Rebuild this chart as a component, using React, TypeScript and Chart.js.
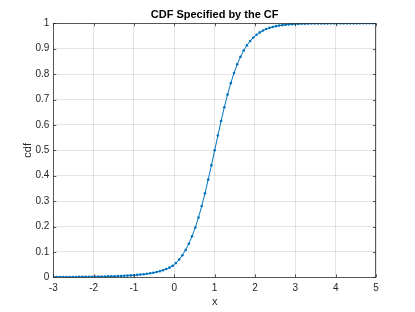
import React, { useEffect, useRef } from "react";
import { Chart, registerables } from "chart.js";

Chart.register(...registerables);

const xValues: number[] = Array.from({ length: 101 }, (_, i) => Math.round((-3 + 0.08 * i) * 100) / 100);

const cdfValues: number[] = [
  0.0010, 0.0010, 0.0010, 0.0011, 0.0011, 0.0012, 0.0013, 0.0014, 0.0015, 0.0017,
  0.0018, 0.0020, 0.0022, 0.0024, 0.0026, 0.0029, 0.0032, 0.0035, 0.0039, 0.0043,
  0.0048, 0.0053, 0.0059, 0.0066, 0.0074, 0.0083, 0.0094, 0.0106, 0.0120, 0.0137,
  0.0157, 0.0180, 0.0207, 0.0240, 0.0280, 0.0325, 0.0380, 0.0450, 0.0560, 0.0699,
  0.0868, 0.1074, 0.1321, 0.1615, 0.1959, 0.2357, 0.2807, 0.3305, 0.3845, 0.4415,
  0.5000, 0.5585, 0.6155, 0.6695, 0.7193, 0.7643, 0.8041, 0.8385, 0.8679, 0.8926,
  0.9132, 0.9301, 0.9440, 0.9552, 0.9642, 0.9715, 0.9774, 0.9820, 0.9857, 0.9887,
  0.9910, 0.9929, 0.9944, 0.9956, 0.9965, 0.9972, 0.9978, 0.9983, 0.9986, 0.9989,
  0.9991, 0.9993, 0.9995, 0.9996, 0.9997, 0.9997, 0.9998, 0.9998, 0.9998, 0.9999,
  0.9999, 0.9999, 0.9999, 0.9999, 0.9999, 1.0000, 1.0000, 1.0000, 1.0000, 1.0000,
  1.0000,
];

const xTicks: number[] = [-3, -2, -1, 0, 1, 2, 3, 4, 5];
const yTicks: number[] = [0, 0.1, 0.2, 0.3, 0.4, 0.5, 0.6, 0.7, 0.8, 0.9, 1];

const titleText = "CDF Specified by the CF";
const xLabel = "x";
const yLabel = "cdf";

const FONT = "'Liberation Sans', Arial, Helvetica, sans-serif";
const AXIS_COLOR = "#262626";

const framePlugin = {
  id: "matlabFrame",
  afterDraw(chart: any) {
    const { ctx, chartArea } = chart;
    const { left, right, top, bottom } = chartArea;
    const xs = chart.scales.x;
    const ys = chart.scales.y;
    ctx.save();
    ctx.strokeStyle = AXIS_COLOR;
    ctx.lineWidth = 1;
    // frame
    ctx.globalAlpha = 0.75;
    ctx.strokeRect(Math.round(left) + 0.5, Math.round(top) + 0.5, Math.round(right - left) - 1, Math.round(bottom - top));
    // ticks
    const tl = 3;
    ctx.beginPath();
    xTicks.forEach((t) => {
      const px = Math.round(xs.getPixelForValue(t)) + 0.5;
      ctx.moveTo(px, bottom);
      ctx.lineTo(px, bottom - tl);
      ctx.moveTo(px, top);
      ctx.lineTo(px, top + tl);
    });
    yTicks.forEach((t) => {
      const py = Math.round(ys.getPixelForValue(t)) + 0.5;
      ctx.moveTo(left, py);
      ctx.lineTo(left + tl, py);
      ctx.moveTo(right, py);
      ctx.lineTo(right - tl, py);
    });
    ctx.stroke();
    ctx.globalAlpha = 1;
    // texts
    ctx.fillStyle = "#000000";
    ctx.font = `bold 11px ${FONT}`;
    ctx.textAlign = "center";
    ctx.textBaseline = "middle";
    ctx.fillText(titleText, (left + right) / 2, 14.5);
    ctx.fillStyle = AXIS_COLOR;
    ctx.font = `11px ${FONT}`;
    ctx.fillText(xLabel, (left + right) / 2, 302);
    ctx.translate(28, (top + bottom) / 2);
    ctx.rotate(-Math.PI / 2);
    ctx.fillText(yLabel, 0, 0);
    ctx.restore();
  },
};

export default function App() {
  const canvasRef = useRef<HTMLCanvasElement | null>(null);

  useEffect(() => {
    document.body.style.margin = "0";
    const canvas = canvasRef.current;
    if (!canvas) return;
    const chart = new Chart(canvas, {
      type: "line",
      data: {
        labels: xValues,
        datasets: [
          {
            data: xValues.map((x, i) => ({ x, y: cdfValues[i] })),
            borderColor: "#0072BD",
            backgroundColor: "#0072BD",
            borderWidth: 1,
            pointRadius: 1.3,
            pointBorderWidth: 0,
            pointBackgroundColor: "#0072BD",
            tension: 0,
            fill: false,
          },
        ],
      },
      options: {
        animation: false,
        responsive: false,
        devicePixelRatio: 1,
        layout: { padding: { top: 23.3, right: 39, left: 0, bottom: 0 } },
        plugins: {
          legend: { display: false },
          title: { display: false },
          tooltip: { enabled: false },
        },
        scales: {
          x: {
            type: "linear",
            min: -3,
            max: 5,
            afterFit: (scale: any) => {
              scale.height = 34.7;
            },
            afterBuildTicks: (scale: any) => {
              scale.ticks = xTicks.map((v) => ({ value: v }));
            },
            grid: { color: "rgba(38,38,38,0.12)", drawTicks: false, lineWidth: 1 },
            border: { display: false },
            ticks: {
              padding: 5,
              color: AXIS_COLOR,
              font: { family: FONT, size: 10 },
              callback: (v: any) => String(v),
            },
          },
          y: {
            type: "linear",
            min: 0,
            max: 1,
            afterFit: (scale: any) => {
              scale.width = 53.3;
            },
            afterBuildTicks: (scale: any) => {
              scale.ticks = yTicks.map((v) => ({ value: v }));
            },
            grid: { color: "rgba(38,38,38,0.12)", drawTicks: false, lineWidth: 1 },
            border: { display: false },
            ticks: {
              padding: 4,
              color: AXIS_COLOR,
              font: { family: FONT, size: 10 },
              callback: (v: any) => String(Math.round(v * 10) / 10),
            },
          },
        },
      },
      plugins: [framePlugin],
    });
    return () => chart.destroy();
  }, []);

  return (
    <div style={{ position: "absolute", left: 0, top: 0, width: 415, height: 312, background: "#fff" }}>
      <canvas ref={canvasRef} width={415} height={312} style={{ width: 415, height: 312 }} />
    </div>
  );
}
